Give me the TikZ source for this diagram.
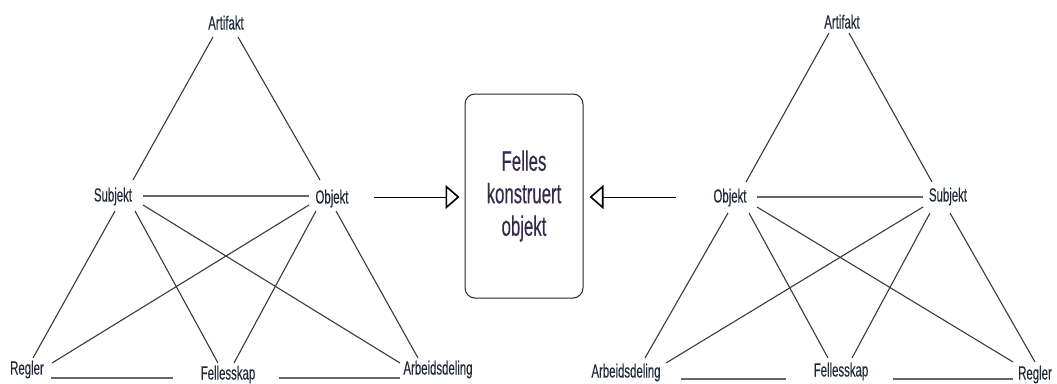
\documentclass[tikz,border=0pt]{standalone}
\usepackage{fontspec}
\setmainfont{Liberation Sans}[FakeStretch=0.6, FakeBold=0.25]
\usetikzlibrary{arrows.meta}
\definecolor{labelc}{HTML}{1F2A38}
\definecolor{edgec}{HTML}{3A3A3A}
\definecolor{boxtext}{HTML}{33294A}
\begin{document}
\begin{tikzpicture}[x=1pt,y=-1pt,
  lbl/.style={inner sep=0pt, text height=13pt, text depth=0pt,
    font=\fontsize{19}{21}\selectfont, text=labelc},
  edge/.style={draw=edgec, line width=1.1pt},
  flat/.style={draw=black!60, line width=2pt},
  feed/.style={draw=black, line width=1pt,
    -{Triangle[open, length=14pt, width=24pt, line width=1.6pt]}},
  sharedbox/.style={draw=black!85, line width=1pt, rounded corners=10pt,
    minimum width=118pt, minimum height=204pt, align=center,
    font=\fontsize{28}{32.5}\selectfont, text=boxtext}
]
\useasboundingbox (0,0) rectangle (1057,383);

% ---------- left triangle ----------
\node[lbl] (A1) at (226,23)  {Artifakt};
\node[lbl] (S1) at (113,195) {Subjekt};
\node[lbl] (O1) at (332,197) {Objekt};
\node[lbl] (R1) at (27,368)  {Regler};
\node[lbl] (F1) at (228,373) {Fellesskap};
\node[lbl] (D1) at (438,368) {Arbeidsdeling};

\draw[edge] ([shift={(-13,14)}]A1.center) -- ([shift={(20,-15)}]S1.center);
\draw[edge] ([shift={(12,14)}]A1.center)  -- ([shift={(-12,-17)}]O1.center);
\draw[flat] ([shift={(30,1)}]S1.center)   -- ([shift={(-23,-1)}]O1.center);
\draw[edge] ([shift={(2,16)}]S1.center)   -- ([shift={(6,-10)}]R1.center);
\draw[edge] ([shift={(22,16)}]S1.center)  -- ([shift={(-10,-10)}]F1.center);
\draw[edge] ([shift={(30,10)}]S1.center)  -- ([shift={(-38,-5)}]D1.center);
\draw[edge] ([shift={(-23,8)}]O1.center)  -- ([shift={(25,-5)}]R1.center);
\draw[edge] ([shift={(-16,14)}]O1.center) -- ([shift={(6,-10)}]F1.center);
\draw[edge] ([shift={(4,14)}]O1.center)   -- ([shift={(-20,-10)}]D1.center);
\draw[flat] ([shift={(24,10)}]R1.center)  -- ([shift={(-55,5)}]F1.center);
\draw[flat] ([shift={(51,5)}]F1.center)   -- ([shift={(-38,10)}]D1.center);

% ---------- shared object ----------
\node[sharedbox] (B) at (524,196) {Felles\\konstruert\\objekt};
\draw[feed] ([shift={(42,0)}]O1.center) -- ([shift={(-5,1)}]B.west);

% ---------- right triangle ----------
\node[lbl] (A2) at (842,22)  {Artifakt};
\node[lbl] (O2) at (730,196) {Objekt};
\node[lbl] (S2) at (948,195) {Subjekt};
\node[lbl] (D2) at (626,371) {Arbeidsdeling};
\node[lbl] (F2) at (841,370) {Fellesskap};
\node[lbl] (R2) at (1035,373) {Regler};

\draw[edge] ([shift={(-13,11)}]A2.center) -- ([shift={(16,-14)}]O2.center);
\draw[edge] ([shift={(7,11)}]A2.center)   -- ([shift={(-16,-13)}]S2.center);
\draw[flat] ([shift={(27,1)}]O2.center)   -- ([shift={(-25,2)}]S2.center);
\draw[edge] ([shift={(-2,17)}]O2.center)  -- ([shift={(19,-13)}]D2.center);
\draw[edge] ([shift={(19,17)}]O2.center)  -- ([shift={(-13,-12)}]F2.center);
\draw[edge] ([shift={(27,11)}]O2.center)  -- ([shift={(-22,-11)}]R2.center);
\draw[edge] ([shift={(-25,12)}]S2.center) -- ([shift={(40,-8)}]D2.center);
\draw[edge] ([shift={(-18,18)}]S2.center) -- ([shift={(11,-12)}]F2.center);
\draw[edge] ([shift={(2,18)}]S2.center)   -- ([shift={(0,-11)}]R2.center);
\draw[flat] ([shift={(55,8)}]D2.center)   -- ([shift={(-55,9)}]F2.center);
\draw[flat] ([shift={(52,9)}]F2.center)   -- ([shift={(-22,6)}]R2.center);

\draw[feed] ([shift={(-54,1)}]O2.center) -- ([shift={(6,1)}]B.east);
\end{tikzpicture}
\end{document}
